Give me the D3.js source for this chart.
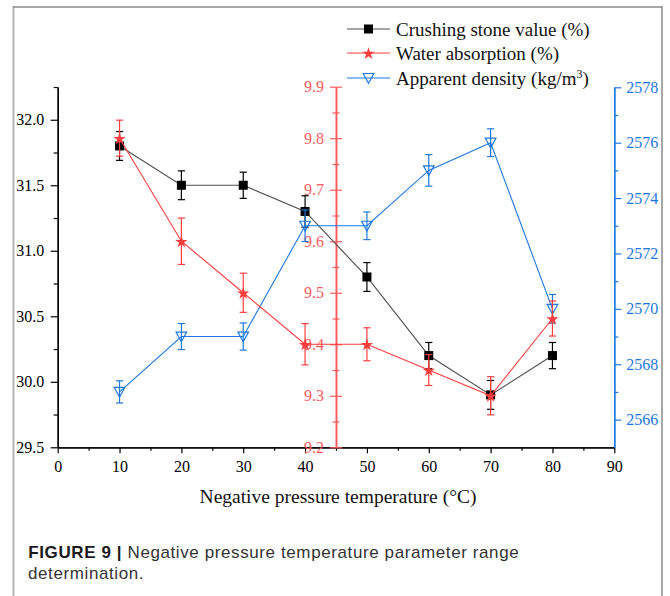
<!DOCTYPE html>
<html>
<head>
<meta charset="utf-8">
<script src="https://cdn.jsdelivr.net/npm/d3@7"></script>
<style>
body { margin: 0; background: #fff; }
svg text { font-family: "Liberation Serif", "Times New Roman", serif; }
</style>
</head>
<body>
<div id="chart_div"></div>
<script>
// data
const temps = [10, 20, 30, 40, 50, 60, 70, 80];
const crushing = [31.8, 31.5, 31.5, 31.3, 30.8, 30.2, 29.9, 30.2];
const crushingErr = [0.11, 0.11, 0.1, 0.12, 0.11, 0.1, 0.11, 0.1];
const water = [9.8, 9.6, 9.5, 9.4, 9.4, 9.35, 9.3, 9.45];
const waterErr = [0.035, 0.045, 0.038, 0.04, 0.032, 0.03, 0.037, 0.034];
const density = [2567, 2569, 2569, 2573, 2573, 2575, 2576, 2570];
const densityErr = [0.4, 0.47, 0.49, 0.57, 0.5, 0.57, 0.5, 0.52];

const xTicks = [0, 10, 20, 30, 40, 50, 60, 70, 80, 90];
const xMinor = [5, 15, 25, 35, 45, 55, 65, 75, 85];
const leftTicks = [29.5, 30.0, 30.5, 31.0, 31.5, 32.0];
const leftMinor = [29.75, 30.25, 30.75, 31.25, 31.75, 32.25];
const redTicks = [9.2, 9.3, 9.4, 9.5, 9.6, 9.7, 9.8, 9.9];
const redMinor = [9.25, 9.35, 9.45, 9.55, 9.65, 9.75, 9.85];
const blueTicks = [2566, 2568, 2570, 2572, 2574, 2576, 2578];
const blueMinor = [2567, 2569, 2571, 2573, 2575, 2577];

const legendLabels = ["Crushing stone value (%)", "Water absorption (%)", "Apparent density (kg/m"];
const xTitle = "Negative pressure temperature (\u00B0C)";
const captionBold = "FIGURE 9 |";
const captionLine1 = "Negative pressure temperature parameter range";
const captionLine2 = "determination.";

const width = 670;
const height = 596;
const serif = "'Liberation Serif', 'Times New Roman', serif";
const sans = "'Liberation Sans', Arial, sans-serif";
const black = "#000";
const blackLine = "#4d4d4d";
const red = "#ff3d3d";
const redAxis = "#ff5c5c";
const blue = "#1e78e0";

const svg = d3.select("#chart_div")
    .append("svg")
    .attr("width", width)
    .attr("height", height);

// frame
svg.append("line").attr("x1", 13.5).attr("x2", 13.5).attr("y1", 6).attr("y2", height)
    .attr("stroke", "#b5b5b5").attr("stroke-width", 2);
svg.append("line").attr("x1", 13).attr("x2", 662).attr("y1", 7).attr("y2", 7)
    .attr("stroke", "#8a8a8a").attr("stroke-width", 1.5);
svg.append("line").attr("x1", 662).attr("x2", 662).attr("y1", 6.3).attr("y2", height)
    .attr("stroke", "#8a8a8a").attr("stroke-width", 1.5);

const x = d3.scaleLinear().domain([0, 90]).range([57.7, 614.3]);
const yL = d3.scaleLinear().domain([29.5, 32.25]).range([447.3, 87]);
const yR = d3.scaleLinear().domain([9.2, 9.9]).range([447.3, 86.7]);
const yB = d3.scaleLinear().domain([2565, 2578]).range([447.3, 87.3]);

const styleAxis = (g, color) => {
    g.attr("font-family", null).attr("font-size", null);
    g.select(".domain").attr("stroke", color).attr("stroke-width", 1.3);
    g.selectAll(".tick line").attr("stroke", color).attr("stroke-width", 1.2);
    g.selectAll(".tick text")
        .attr("fill", color)
        .style("font-family", serif)
        .style("font-size", "16px");
};

// x axis
svg.append("g").attr("transform", `translate(0,${yL.range()[0]})`)
    .call(d3.axisBottom(x).tickValues(xTicks).tickSize(6).tickSizeOuter(0).tickPadding(7.5))
    .call(g => styleAxis(g, black));
svg.append("g").attr("transform", `translate(0,${yL.range()[0]})`)
    .call(d3.axisBottom(x).tickValues(xMinor).tickSize(3.5).tickSizeOuter(0).tickFormat(""))
    .call(g => styleAxis(g, black));

// left axis
svg.append("g").attr("transform", `translate(${x(0)},0)`)
    .call(d3.axisLeft(yL).tickValues(leftTicks).tickSize(7).tickSizeOuter(0).tickPadding(6.4).tickFormat(d3.format(".1f")))
    .call(g => styleAxis(g, black));
svg.append("g").attr("transform", `translate(${x(0)},0)`)
    .call(d3.axisLeft(yL).tickValues(leftMinor).tickSize(4).tickSizeOuter(0).tickFormat(""))
    .call(g => styleAxis(g, black));

// red axis, crossing ticks at x = 45
const redG = svg.append("g").attr("transform", `translate(${x(45)},0)`);
redG.append("g")
    .call(d3.axisLeft(yR).tickValues(redTicks).tickSize(6).tickSizeOuter(0).tickPadding(6).tickFormat(d3.format(".1f")))
    .call(g => styleAxis(g, redAxis));
redG.append("g")
    .call(d3.axisRight(yR).tickValues(redTicks).tickSize(6).tickSizeOuter(0).tickFormat(""))
    .call(g => styleAxis(g, redAxis));
redG.append("g")
    .call(d3.axisLeft(yR).tickValues(redMinor).tickSize(3.5).tickSizeOuter(0).tickFormat(""))
    .call(g => styleAxis(g, redAxis));
redG.append("g")
    .call(d3.axisRight(yR).tickValues(redMinor).tickSize(3.5).tickSizeOuter(0).tickFormat(""))
    .call(g => styleAxis(g, redAxis));

// blue axis at x = 90
svg.append("g").attr("transform", `translate(${x(90)},0)`)
    .call(d3.axisRight(yB).tickValues(blueTicks).tickSize(7).tickSizeOuter(0).tickPadding(5).tickFormat(d3.format("d")))
    .call(g => styleAxis(g, blue));
svg.append("g").attr("transform", `translate(${x(90)},0)`)
    .call(d3.axisRight(yB).tickValues(blueMinor).tickSize(4).tickSizeOuter(0).tickFormat(""))
    .call(g => styleAxis(g, blue));

// x title
svg.append("text")
    .attr("x", x(45) + 2)
    .attr("y", 503)
    .attr("text-anchor", "middle")
    .style("font-family", serif)
    .style("font-size", "19.5px")
    .attr("fill", "#111")
    .text(xTitle);

// markers
const square = (g, cx, cy) => g.append("rect")
    .attr("x", cx - 4.5).attr("y", cy - 4.5).attr("width", 9).attr("height", 9)
    .attr("fill", black);
const star = (g, cx, cy) => g.append("path")
    .attr("transform", `translate(${cx},${cy + 0.8})`)
    .attr("d", d3.symbol(d3.symbolStar, 48)())
    .attr("fill", red);
const triangle = (g, cx, cy) => g.append("path")
    .attr("d", `M${cx - 5.3},${cy - 4.5}L${cx + 5.3},${cy - 4.5}L${cx},${cy + 5.2}Z`)
    .attr("fill", "none")
    .attr("stroke", blue)
    .attr("stroke-width", 1.2);

const drawSeries = (values, errs, yScale, lineColor, barColor, marker) => {
    const g = svg.append("g");
    g.append("path")
        .datum(temps.map((t, i) => [t, values[i]]))
        .attr("fill", "none")
        .attr("stroke", lineColor)
        .attr("stroke-width", 1.1)
        .attr("d", d3.line().x(d => x(d[0])).y(d => yScale(d[1])));
    temps.forEach((t, i) => {
        const cx = x(t);
        const top = yScale(values[i] + errs[i]);
        const bot = yScale(values[i] - errs[i]);
        g.append("line").attr("x1", cx).attr("x2", cx).attr("y1", top).attr("y2", bot)
            .attr("stroke", barColor).attr("stroke-width", 1.2);
        [top, bot].forEach(yy => g.append("line")
            .attr("x1", cx - 3.6).attr("x2", cx + 3.6).attr("y1", yy).attr("y2", yy)
            .attr("stroke", barColor).attr("stroke-width", 1.2));
    });
    temps.forEach((t, i) => marker(g, x(t), yScale(values[i])));
};

drawSeries(crushing, crushingErr, yL, blackLine, black, square);
drawSeries(density, densityErr, yB, blue, blue, triangle);
drawSeries(water, waterErr, yR, red, red, star);

// legend
const legend = svg.append("g");
const legendRows = [
    { label: legendLabels[0], color: blackLine, marker: square, y: 29 },
    { label: legendLabels[1], color: red, marker: star, y: 53 },
    { label: legendLabels[2], color: blue, marker: triangle, y: 78 }
];
legendRows.forEach((r, i) => {
    legend.append("line").attr("x1", 347).attr("x2", 390).attr("y1", r.y).attr("y2", r.y)
        .attr("stroke", r.color).attr("stroke-width", 1.1);
    r.marker(legend, 368.5, r.y);
    const t = legend.append("text")
        .attr("x", 396)
        .attr("y", r.y + 6.5)
        .style("font-family", serif)
        .style("font-size", "19px")
        .attr("fill", "#111")
        .text(r.label);
    if (i === 2) {
        t.append("tspan").attr("dy", -7).style("font-size", "12px").text("3");
        t.append("tspan").attr("dy", 7).text(")");
    }
});

// caption
const cap = svg.append("text")
    .attr("x", 28.3).attr("y", 558)
    .style("font-family", sans)
    .style("font-size", "17px")
    .style("letter-spacing", "0.6px")
    .attr("fill", "#333");
cap.append("tspan")
    .style("font-weight", "bold")
    .attr("fill", "#1a1a1a")
    .text(captionBold);
cap.append("tspan").text(" " + captionLine1);
svg.append("text")
    .attr("x", 28).attr("y", 579)
    .style("font-family", sans)
    .style("font-size", "17px")
    .style("letter-spacing", "0.6px")
    .attr("fill", "#333")
    .text(captionLine2);
</script>
</body>
</html>
